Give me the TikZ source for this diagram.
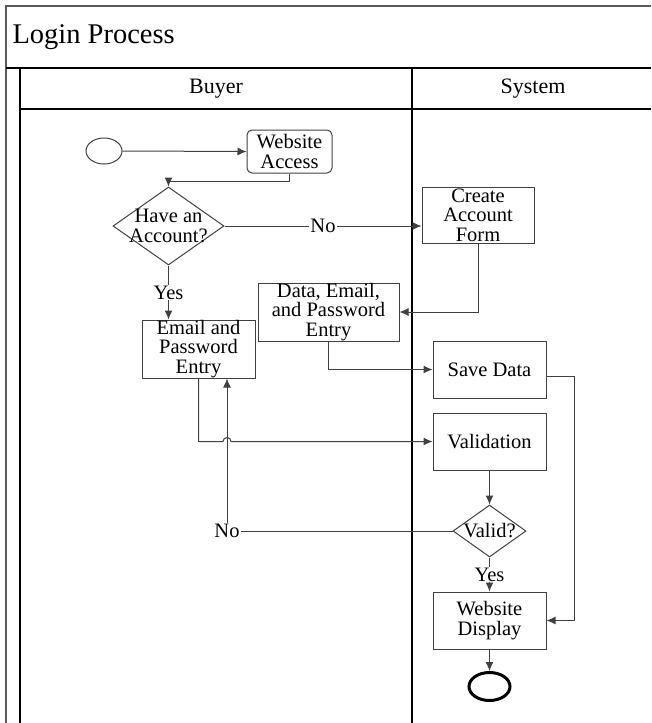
\documentclass[tikz,border=0pt]{standalone}
\usepackage{fontspec}
\setmainfont{Liberation Serif}
\usetikzlibrary{arrows.meta,shapes.geometric,positioning}

\begin{document}
\begin{tikzpicture}[
  x=1pt,y=-1pt,
  every node/.style={font=\fontsize{20.5}{19.5}\selectfont},
  lane/.style={line width=1.2pt},
  activity/.style={draw=black!75,line width=1pt,align=center,inner sep=0pt,minimum width=113pt,minimum height=57pt},
  decision/.style={draw=black!75,line width=1pt,diamond,inner sep=0pt},
  route/.style={draw=black!75,line width=1pt,-{Latex[length=9pt,width=8pt]}},
  tag/.style={fill=white,inner sep=1pt}
]
  \useasboundingbox (0,0) rectangle (651,723);

  % swimlanes
  \draw[lane,black!65] (6,723) -- (6,6) -- (651,6);
  \draw[lane] (6,68) -- (651,68);
  \draw[lane] (20,723) -- (20,68);
  \draw[lane] (20,109) -- (651,109);
  \draw[lane] (412,68) -- (412,723);

  \node[font=\fontsize{28.5}{30}\selectfont,anchor=west] (title) at (9,37) {Login Process};
  \node[font=\fontsize{22}{24}\selectfont] (buyer) at (216,88.5) {Buyer};
  \node[font=\fontsize{22}{24}\selectfont] (system) at (533,88.5) {System};

  % activities
  \node[ellipse,draw=black!75,line width=1pt,minimum width=36pt,minimum height=26pt,inner sep=0pt] (start) at (104,151) {};
  \node[activity,rounded corners=5pt,minimum width=85pt,minimum height=43pt] (access) at (289.5,151.5) {Website\\Access};
  \node[decision,minimum width=111pt,minimum height=78pt,label={[align=center]center:Have an\\Account?}] (account) at (168.5,226) {};
  \node[activity,minimum width=112pt,minimum height=56pt] (form) at (478,215) {Create\\Account\\Form};
  \node[activity,minimum width=141pt,minimum height=58pt] (data) at (328.5,312) {Data, Email,\\and Password\\Entry};
  \node[activity,minimum height=58pt] (login) at (198.5,349) {Email and\\Password\\Entry};
  \node[activity] (save) at (489.5,369.5) {Save Data};
  \node[activity] (check) at (489.5,441.5) {Validation};
  \node[decision,minimum width=73pt,minimum height=52pt,label=center:Valid?] (valid) at (489.5,531) {};
  \node[activity] (display) at (489.5,620.5) {Website\\Display};
  \node[ellipse,draw=black,line width=3pt,minimum width=41pt,minimum height=28pt,inner sep=0pt] (stop) at (489.5,686.5) {};

  \coordinate (retx) at ([xshift=28.5pt]login.south);
  \coordinate (hop) at (retx |- check.west);

  % flows
  \draw[route] (start.east) -- (access.west);
  \draw[route] (access.south) -- ++(0,8) -| (account.north);
  \draw[route] (account.east) -- node[tag]{No} (account.east -| form.west);
  \draw[route] (form.south) |- (data.east);
  \draw[route] (account.south) -- node[tag]{Yes} (account.south |- login.north);
  \draw[route] (data.south) |- (save.west);
  \draw[route] (login.south) |- ([xshift=-4pt]hop) arc[start angle=180,end angle=0,radius=4pt] -- (check.west);
  \draw[route] (valid.west) -| node[tag,pos=.5]{No} (retx);
  \draw[route] (check.south) -- (valid.north);
  \draw[route] (valid.south) -- node[tag]{Yes} (display.north);
  \draw[route] ([yshift=-7pt]save.east) -- ++(28,0) |- (display.east);
  \draw[route] (display.south) -- (stop.north);
\end{tikzpicture}
\end{document}
